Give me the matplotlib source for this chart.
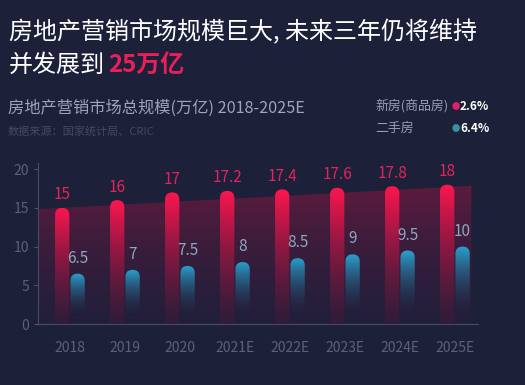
import numpy as np
import matplotlib
matplotlib.use("Agg")
import matplotlib.pyplot as plt
from matplotlib.patches import FancyBboxPatch, Polygon
from matplotlib.colors import to_rgb

plt.rcParams['font.family'] = ['Noto Sans CJK SC', 'DejaVu Sans']

# data
years = ['2018', '2019', '2020', '2021E', '2022E', '2023E', '2024E', '2025E']
new_house = [15, 16, 17, 17.2, 17.4, 17.6, 17.8, 18]
second_hand = [6.5, 7, 7.5, 8, 8.5, 9, 9.5, 10]
y_ticks = [0, 5, 10, 15, 20]
legend_names = ['新房(商品房)', '二手房']
legend_rates = ['2.6%', '6.4%']

BG = '#1c2039'
RED = '#ff1650'
BLUE = '#2aa3cf'
W, H = 525, 385

fig = plt.figure(figsize=(W / 100, H / 100), dpi=100, facecolor=BG)
ax = fig.add_axes([38 / W, 61 / H, 440 / W, 161 / H])
ax.set_facecolor(BG)

x = np.arange(len(years))
bw = 0.26
off = 0.14


def gradient(c_top, c_bot, a_top, a_bot, n=200):
    t = np.linspace(0, 1, n)[:, None]  # 0 bottom -> 1 top
    top = np.array(to_rgb(c_top))
    bot = np.array(to_rgb(c_bot))
    rgb = bot + (top - bot) * t
    a = a_bot + (a_top - a_bot) * t
    return np.concatenate([rgb, a], axis=1)[:, None, :]


# background band behind the red bars
fit = np.polyfit(x, new_house, 1)
bx = np.array([-0.6, 7.3])
btop = np.polyval(fit, bx) - 0.6
band = Polygon([[bx[0], 0], [bx[0], btop[0]], [bx[1], btop[1]], [bx[1], 0]],
               closed=True, transform=ax.transData)
im = ax.imshow(gradient('#82183f', '#3a1c40', 0.65, 0.2), extent=(bx[0], bx[1], 0, btop.max()),
               origin='lower', aspect='auto', zorder=1)
im.set_clip_path(band)


def bar(xc, v, c_top, c_bot, a_bot, fade_to=0):
    patch = FancyBboxPatch((xc - bw / 2, -2), bw, v + 2,
                           boxstyle="round,pad=0,rounding_size=%f" % (bw / 2),
                           mutation_aspect=7.0, transform=ax.transData)
    g = gradient(c_top, c_bot, 1.0, a_bot)
    im = ax.imshow(g, extent=(xc - bw / 2, xc + bw / 2, fade_to, v), origin='lower',
                   aspect='auto', zorder=3)
    im.set_clip_path(patch)


for i in range(len(years)):
    bar(x[i] - off, new_house[i], RED, '#5a1838', 0.25)
    bar(x[i] + off, second_hand[i], BLUE, '#1c3050', 0.0, fade_to=1.0)
    ax.text(x[i] - off, new_house[i] + 0.6, f'{new_house[i]:g}', color='#e3245c',
            fontsize=11, ha='center', va='bottom', zorder=5)
    ax.text(x[i] + off, second_hand[i] + 0.9, f'{second_hand[i]:g}', color='#8aa8c0',
            fontsize=11, ha='center', va='bottom', zorder=5)

ax.set_xlim(-0.58, 7.42)
ax.set_ylim(0, 20.8)
ax.set_yticks(y_ticks)
ax.set_xticks(x)
ax.set_xticklabels(years)
ax.tick_params(colors='#50556c', labelcolor='#5c6178', labelsize=10, length=3)
ax.tick_params(axis='x', length=0, pad=12)
for s in ['top', 'right']:
    ax.spines[s].set_visible(False)
for s in ['left', 'bottom']:
    ax.spines[s].set_color('#474c64')

# titles
fig.text(9 / W, 1 - 32 / H, '房地产营销市场规模巨大, 未来三年仍将维持', color='white',
         fontsize=17.3, va='center', ha='left')
fig.text(9 / W, 1 - 65 / H, '并发展到', color='white', fontsize=17.3, va='center', ha='left')
fig.text(108 / W, 1 - 65 / H, '25万亿', color='#e8205a', fontsize=17.3, fontweight='bold',
         va='center', ha='left')
fig.text(8 / W, 1 - 108 / H, '房地产营销市场总规模(万亿) 2018-2025E', color='#a0a4b6',
         fontsize=11.7, va='center', ha='left')
fig.text(8 / W, 1 - 131 / H, '数据来源：国家统计局、CRIC', color='#454a60',
         fontsize=8, va='center', ha='left')

# legend
dots = ['#e0206a', '#3a8fa0']
for k in range(2):
    yy = 1 - (106 + 22 * k) / H
    fig.text(375 / W, yy, legend_names[k], color='#9a9eb0', fontsize=9.3, va='center', ha='left')
    fig.text(456 / W, yy, '●', color=dots[k], fontsize=6, va='center', ha='center')
    fig.text(460 / W, yy, legend_rates[k], color='white', fontsize=8.5, fontweight='bold',
             va='center', ha='left')

fig.savefig('out.png', dpi=100, facecolor=BG)
